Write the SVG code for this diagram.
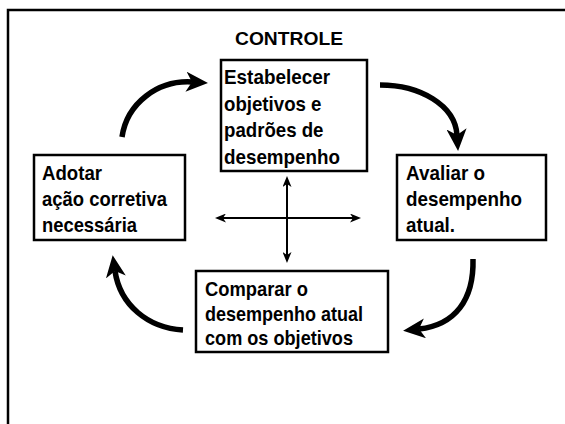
<svg xmlns="http://www.w3.org/2000/svg" width="565" height="424" viewBox="0 0 565 424">
  <style>
    .box { fill: #ffffff; stroke: #000000; stroke-width: 2.5; }
    .txt { font-family: "Liberation Sans", Arial, sans-serif; font-weight: bold; font-size: 20.5px; fill: #000000; }
    .title { font-family: "Liberation Sans", Arial, sans-serif; font-weight: bold; font-size: 18.5px; fill: #000000; }
    .curve { fill: none; stroke: #000000; stroke-width: 5.5; }
    .straight { fill: none; stroke: #000000; stroke-width: 2; }
  </style>
  <defs>
    <marker id="bighead" viewBox="0 0 22 20" markerWidth="22" markerHeight="20" refX="6" refY="10" markerUnits="userSpaceOnUse" orient="auto">
      <path d="M0,0 L22,10 L0,20 L6,10 z" fill="#000000"/>
    </marker>
    <marker id="smallhead" viewBox="0 0 11 9" markerWidth="11" markerHeight="9" refX="6" refY="4.5" markerUnits="userSpaceOnUse" orient="auto-start-reverse">
      <path d="M0,0 L11,4.5 L0,9 L3,4.5 z" fill="#000000"/>
    </marker>
  </defs>
  <rect width="565" height="424" fill="#ffffff"/>
  <rect x="8" y="10" width="600" height="500" fill="none" stroke="#000000" stroke-width="2.5"/>
  <text class="title" x="235" y="45" textLength="108" lengthAdjust="spacingAndGlyphs">CONTROLE</text>

  <g id="node-estabelecer">
    <rect class="box" x="221" y="60" width="146" height="111"/>
    <text class="txt" x="224" y="84" textLength="106" lengthAdjust="spacingAndGlyphs">Estabelecer</text>
    <text class="txt" x="224" y="110.5" textLength="97.5" lengthAdjust="spacingAndGlyphs">objetivos e</text>
    <text class="txt" x="224" y="137" textLength="99.5" lengthAdjust="spacingAndGlyphs">padrões de</text>
    <text class="txt" x="224" y="163.5" textLength="116" lengthAdjust="spacingAndGlyphs">desempenho</text>
  </g>
  <g id="node-avaliar">
    <rect class="box" x="397" y="155" width="149" height="85"/>
    <text class="txt" x="406" y="180" textLength="79" lengthAdjust="spacingAndGlyphs">Avaliar o</text>
    <text class="txt" x="406" y="206" textLength="116" lengthAdjust="spacingAndGlyphs">desempenho</text>
    <text class="txt" x="406" y="231.5" textLength="49" lengthAdjust="spacingAndGlyphs">atual.</text>
  </g>
  <g id="node-comparar">
    <rect class="box" x="196" y="271" width="192" height="81"/>
    <text class="txt" x="205" y="296" textLength="103" lengthAdjust="spacingAndGlyphs">Comparar o</text>
    <text class="txt" x="205" y="321" textLength="158" lengthAdjust="spacingAndGlyphs">desempenho atual</text>
    <text class="txt" x="205" y="345" textLength="148" lengthAdjust="spacingAndGlyphs">com os objetivos</text>
  </g>
  <g id="node-adotar">
    <rect class="box" x="34" y="155" width="151" height="85"/>
    <text class="txt" x="42" y="180" textLength="60" lengthAdjust="spacingAndGlyphs">Adotar</text>
    <text class="txt" x="42" y="206" textLength="125" lengthAdjust="spacingAndGlyphs">ação corretiva</text>
    <text class="txt" x="42" y="231.5" textLength="95" lengthAdjust="spacingAndGlyphs">necessária</text>
  </g>

  <g id="connectors">
    <path class="curve" d="M122,137 C127,103 158,80 192,82" marker-end="url(#bighead)"/>
    <path class="curve" d="M380,85 C420,85 455,105 457,135" marker-end="url(#bighead)"/>
    <path class="curve" d="M473,259 C474,300 455,325 419,329" marker-end="url(#bighead)"/>
    <path class="curve" d="M183,330 C148,328 120,305 115,271" marker-end="url(#bighead)"/>
    <path class="straight" d="M287,181 L287,258" marker-start="url(#smallhead)" marker-end="url(#smallhead)"/>
    <path class="straight" d="M220,218 L356,218" marker-start="url(#smallhead)" marker-end="url(#smallhead)"/>
  </g>
</svg>
